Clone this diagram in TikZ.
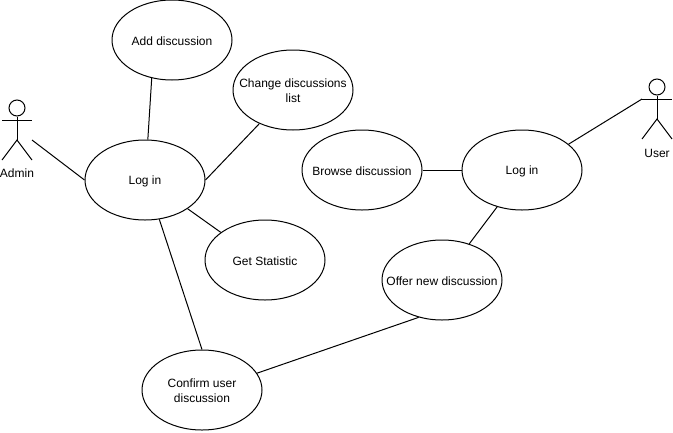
\documentclass[tikz,border=0pt]{standalone}
\usepackage{fontspec}
\setmainfont{Liberation Sans}
\usetikzlibrary{shapes.geometric}
\begin{document}
\begin{tikzpicture}[x=0.75pt,y=-0.75pt,line width=0.75pt,
      usecase/.style = {shape=ellipse, draw, inner sep=0pt,
        minimum width=90pt, minimum height=60pt,
        label={[casetext]center:{#1}}},
      casetext/.style = {align=center, inner sep=0pt, yshift=-0.75pt,
        font=\fontsize{9}{11}\selectfont},
      actorlabel/.style = {inner sep=0pt, font=\fontsize{9}{11}\selectfont},
      actor/.pic = {
        \node[circle, draw, inner sep=0pt, minimum size=12pt] (-head) at (15,8) {};
        \coordinate (-left) at (0,20);
        \coordinate (-right) at (30,20);
        \coordinate (-waist) at (15,40);
        \coordinate (-footl) at (0,60);
        \coordinate (-footr) at (30,60);
        \draw (-head) -- (-waist);
        \draw (-left) -- (-right);
        \draw (-footl) -- (-waist) -- (-footr);
      }]
      \useasboundingbox (0,0) rectangle (673,432);
      \pic (adminfig) at (2,100) {actor};
      \pic (userfig) at (642,79) {actor};
      \node[actorlabel] (adminlabel) at (17,173) {Admin};
      \node[actorlabel] (userlabel) at (657,153) {User};
      \coordinate (adminhand) at (32,140);
      \node[usecase={Add discussion}] (adddisc) at (172,40) {};
      \node[usecase={Change discussions\\list}] (changelist) at (293,90) {};
      \node[usecase={Log in}] (loginadmin) at (145,180) {};
      \node[usecase={Get Statistic}] (getstat) at (265,260) {};
      \node[usecase={Browse discussion}] (browse) at (362,170) {};
      \node[usecase={Log in}] (loginuser) at (522,170) {};
      \node[usecase={Offer new discussion}] (offer) at (442,280) {};
      \node[usecase={Confirm user\\discussion}] (confirm) at (202,390) {};
      \draw (adminhand) -- (loginadmin.west);
      \draw (adddisc.242) -- (loginadmin.86);
      \draw (changelist.225) -- (loginadmin.east);
      \draw (loginadmin.-34) -- (getstat.148);
      \draw (loginadmin.-70) -- (confirm.north);
      \draw (confirm.17) -- (offer.238);
      \draw (browse.east) -- (loginuser.west);
      \draw (loginuser.236) -- (offer.53);
      \draw (loginuser.29.5) -- (userfig-left);
  \end{tikzpicture}
\end{document}
